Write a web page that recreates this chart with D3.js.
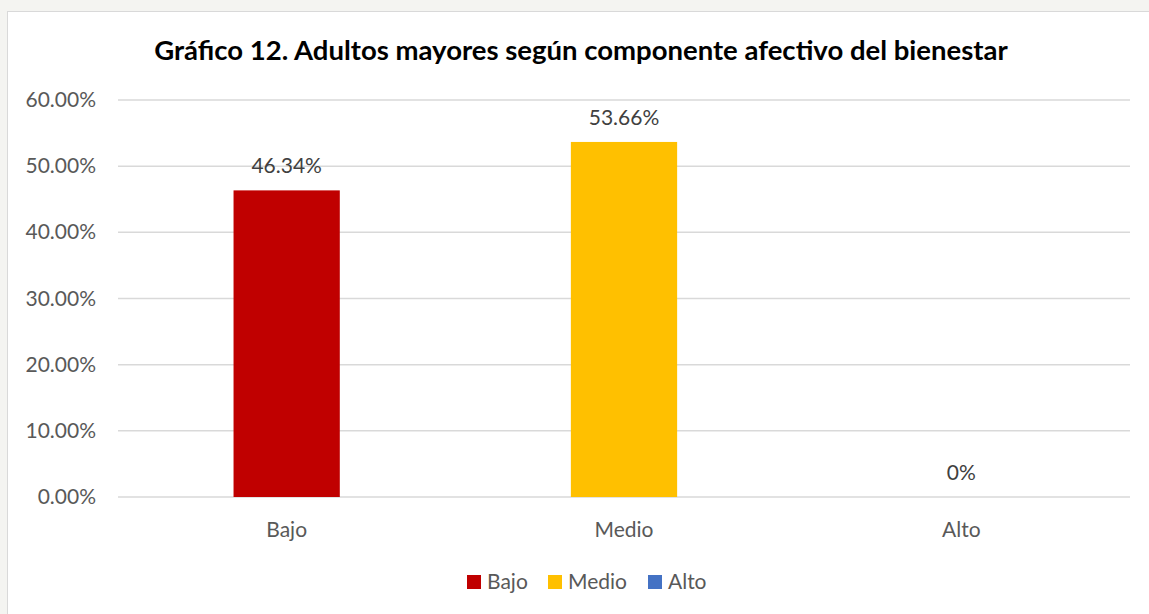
<!DOCTYPE html>
<html>
<head>
<meta charset="utf-8">
<script src="https://cdn.jsdelivr.net/npm/d3@7"></script>
<style>
  html, body { margin: 0; padding: 0; background: #f4f4f1; }
  svg { display: block; }
</style>
</head>
<body>
<svg id="chart"></svg>
<script>
var categories = ['Bajo', 'Medio', 'Alto'];
var values = [0.4634, 0.5366, 0];
var valueLabels = ['46.34%', '53.66%', '0%'];
var colors = ['#C00000', '#FFC000', '#4472C4'];
var yTicks = [0, 0.1, 0.2, 0.3, 0.4, 0.5, 0.6];
var title = 'Gráfico 12. Adultos mayores según componente afectivo del bienestar';

var width = 1149, height = 614;
var font = 'Lato, "Open Sans", sans-serif';

var svg = d3.select('#chart')
  .attr('width', width)
  .attr('height', height);

// chart box
svg.append('rect')
  .attr('x', 7.5).attr('y', 11.5)
  .attr('width', width + 10).attr('height', height + 10)
  .attr('fill', '#ffffff')
  .attr('stroke', '#d9d9d9')
  .attr('stroke-width', 1);

var x = d3.scaleBand()
  .domain(categories)
  .range([118, 1130])
  .paddingInner(0.685)
  .paddingOuter(0.3425);

var y = d3.scaleLinear()
  .domain([0, 0.6])
  .range([497, 100]);

// gridlines
svg.append('g')
  .selectAll('line')
  .data(yTicks)
  .enter()
  .append('line')
  .attr('x1', 118).attr('x2', 1130)
  .attr('y1', function (d) { return y(d); })
  .attr('y2', function (d) { return y(d); })
  .attr('stroke', '#d9d9d9')
  .attr('stroke-width', 1.5);

// y axis labels
svg.append('g')
  .selectAll('text')
  .data(yTicks)
  .enter()
  .append('text')
  .attr('x', 96)
  .attr('y', function (d) { return y(d) + 7; })
  .attr('text-anchor', 'end')
  .attr('font-family', font)
  .attr('font-size', 21)
  .attr('fill', '#595959')
  .text(function (d) { return d3.format('.2%')(d); });

// bars
svg.append('g')
  .selectAll('rect')
  .data(values)
  .enter()
  .append('rect')
  .attr('x', function (d, i) { return x(categories[i]); })
  .attr('y', function (d) { return y(d); })
  .attr('width', x.bandwidth())
  .attr('height', function (d) { return y(0) - y(d); })
  .attr('fill', function (d, i) { return colors[i]; });

// data labels
svg.append('g')
  .selectAll('text')
  .data(values)
  .enter()
  .append('text')
  .attr('x', function (d, i) { return x(categories[i]) + x.bandwidth() / 2; })
  .attr('y', function (d) { return y(d) - 17; })
  .attr('text-anchor', 'middle')
  .attr('font-family', font)
  .attr('font-size', 21)
  .attr('fill', '#404040')
  .text(function (d, i) { return valueLabels[i]; });

// category labels
svg.append('g')
  .selectAll('text')
  .data(categories)
  .enter()
  .append('text')
  .attr('x', function (d) { return x(d) + x.bandwidth() / 2; })
  .attr('y', 537)
  .attr('text-anchor', 'middle')
  .attr('font-family', font)
  .attr('font-size', 21)
  .attr('fill', '#595959')
  .text(function (d) { return d; });

// title
svg.append('text')
  .attr('x', 581)
  .attr('y', 60)
  .attr('text-anchor', 'middle')
  .attr('font-family', font)
  .attr('font-weight', 'bold')
  .attr('font-size', 27.5)
  .attr('fill', '#000000')
  .text(title);

// legend
var legendX = [467, 548, 648];
var legend = svg.append('g')
  .selectAll('g')
  .data(categories)
  .enter()
  .append('g')
  .attr('transform', function (d, i) { return 'translate(' + legendX[i] + ',575)'; });

legend.append('rect')
  .attr('width', 14).attr('height', 14)
  .attr('fill', function (d, i) { return colors[i]; });

legend.append('text')
  .attr('x', 20)
  .attr('y', 14)
  .attr('font-family', font)
  .attr('font-size', 21)
  .attr('fill', '#595959')
  .text(function (d) { return d; });
</script>
</body>
</html>
